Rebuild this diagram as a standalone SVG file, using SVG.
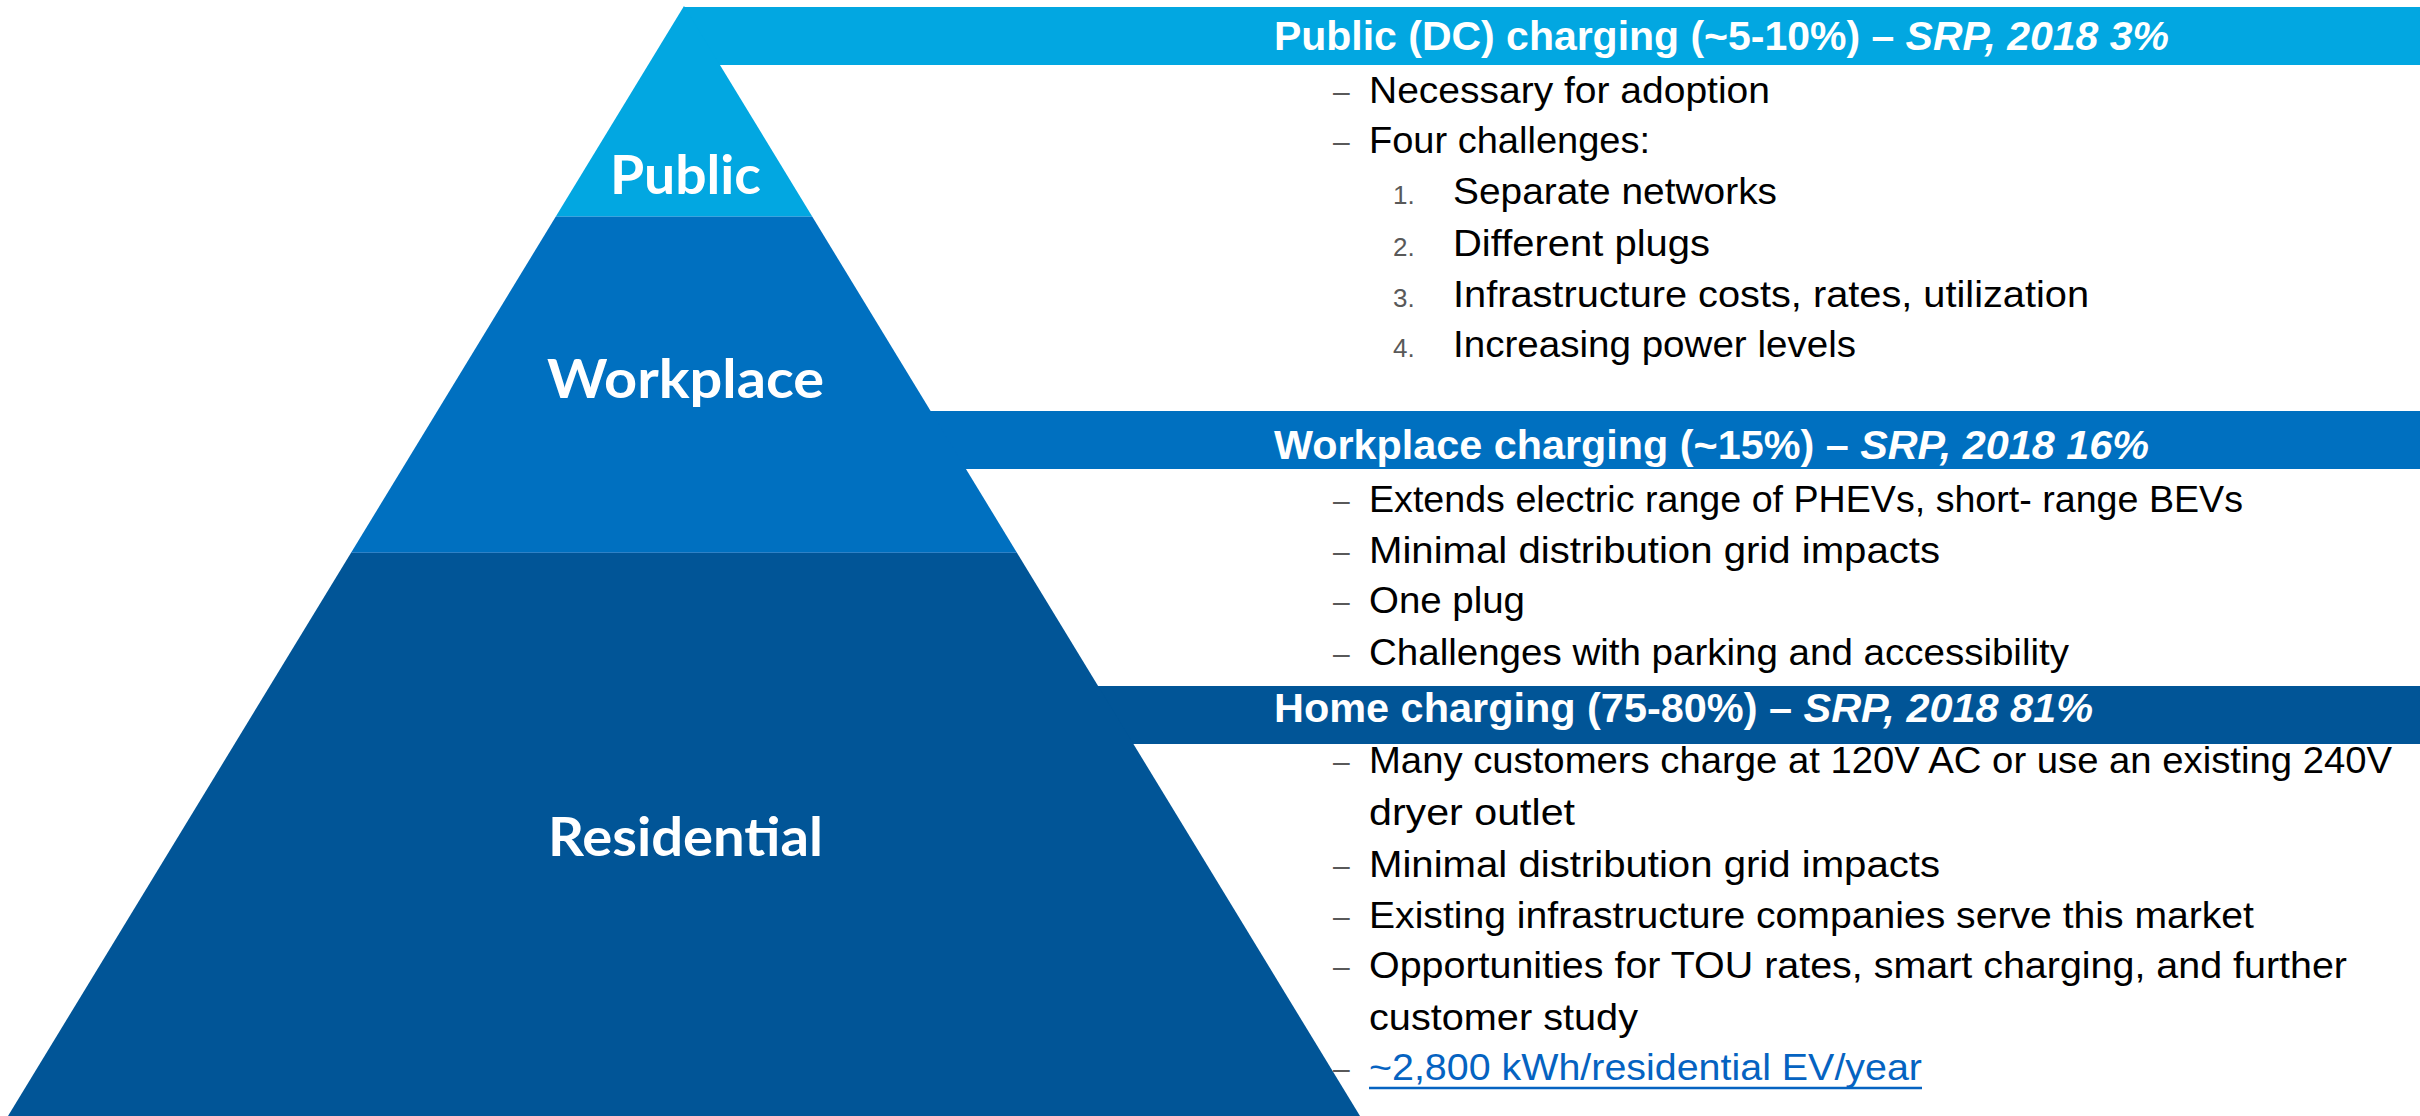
<svg xmlns="http://www.w3.org/2000/svg" width="2420" height="1116" viewBox="0 0 2420 1116">
<style>
.lbl{font-family:Lato,"Open Sans",sans-serif;font-weight:700;font-size:54px;fill:#ffffff}
.ttl{font-family:"Liberation Sans",Arial,sans-serif;font-weight:700;font-size:40px;fill:#ffffff}
.it{font-style:italic}
.body{font-family:"Liberation Sans",Arial,sans-serif;font-size:37px;fill:#000000}
.dash{font-family:"Liberation Sans",Arial,sans-serif;font-size:30px;fill:#595959}
.num{font-family:"Liberation Sans",Arial,sans-serif;font-size:26px;fill:#595959}
.link{fill:#0563C1}
.c1{fill:#02A7E1}
.c2{fill:#0070C0}
.c3{fill:#015597}
</style>
<rect width="2420" height="1116" fill="#ffffff"/>
<g id="connectors"></g>
<g id="public">
<rect class="c1" x="684" y="7" width="1736" height="58"/>
<polygon class="c1" points="684,6 812.5,217 555.5,217"/>
<line x1="556" y1="217" x2="812" y2="217" stroke="#4FA3DC" stroke-width="1.5"/>
<text class="lbl" x="610" y="194" textLength="151" lengthAdjust="spacingAndGlyphs">Public</text>
<text class="ttl" x="1274" y="50" textLength="895" lengthAdjust="spacingAndGlyphs">Public (DC) charging (~5-10%) – <tspan class="it">SRP, 2018 3%</tspan></text>
<text class="dash" x="1333" y="102">–</text>
<text class="body" x="1369" y="103" textLength="401" lengthAdjust="spacingAndGlyphs">Necessary for adoption</text>
<text class="dash" x="1333" y="152">–</text>
<text class="body" x="1369" y="153" textLength="281" lengthAdjust="spacingAndGlyphs">Four challenges:</text>
<text class="num" x="1393" y="204">1.</text>
<text class="body" x="1453" y="204" textLength="324" lengthAdjust="spacingAndGlyphs">Separate networks</text>
<text class="num" x="1393" y="256">2.</text>
<text class="body" x="1453" y="256" textLength="257" lengthAdjust="spacingAndGlyphs">Different plugs</text>
<text class="num" x="1393" y="307">3.</text>
<text class="body" x="1453" y="307" textLength="636" lengthAdjust="spacingAndGlyphs">Infrastructure costs, rates, utilization</text>
<text class="num" x="1393" y="357">4.</text>
<text class="body" x="1453" y="357" textLength="403" lengthAdjust="spacingAndGlyphs">Increasing power levels</text>
</g>
<g id="workplace">
<rect class="c2" x="900" y="411" width="1520" height="58"/>
<polygon class="c2" points="555.5,217 812.5,217 1017.1,553 350.9,553"/>
<line x1="351" y1="553" x2="1017" y2="553" stroke="#3F87C9" stroke-width="1.5"/>
<text class="lbl" x="547" y="398" textLength="277" lengthAdjust="spacingAndGlyphs">Workplace</text>
<text class="ttl" x="1274" y="459" textLength="875" lengthAdjust="spacingAndGlyphs">Workplace charging (~15%) – <tspan class="it">SRP, 2018 16%</tspan></text>
<text class="dash" x="1333" y="511">–</text>
<text class="body" x="1369" y="512" textLength="874" lengthAdjust="spacingAndGlyphs">Extends electric range of PHEVs, short- range BEVs</text>
<text class="dash" x="1333" y="562">–</text>
<text class="body" x="1369" y="563" textLength="571" lengthAdjust="spacingAndGlyphs">Minimal distribution grid impacts</text>
<text class="dash" x="1333" y="612">–</text>
<text class="body" x="1369" y="613" textLength="156" lengthAdjust="spacingAndGlyphs">One plug</text>
<text class="dash" x="1333" y="664">–</text>
<text class="body" x="1369" y="665" textLength="700" lengthAdjust="spacingAndGlyphs">Challenges with parking and accessibility</text>
</g>
<g id="residential">
<rect class="c3" x="1050" y="686" width="1370" height="58"/>
<polygon class="c3" points="350.9,553 1017.1,553 1360,1116 8,1116"/>
<text class="lbl" x="548" y="856" textLength="275" lengthAdjust="spacingAndGlyphs">Residential</text>
<text class="ttl" x="1274" y="722" textLength="819" lengthAdjust="spacingAndGlyphs">Home charging (75-80%) – <tspan class="it">SRP, 2018 81%</tspan></text>
<text class="dash" x="1333" y="772">–</text>
<text class="body" x="1369" y="773" textLength="1023" lengthAdjust="spacingAndGlyphs">Many customers charge at 120V AC or use an existing 240V</text>
<text class="body" x="1369" y="825" textLength="206" lengthAdjust="spacingAndGlyphs">dryer outlet</text>
<text class="dash" x="1333" y="876">–</text>
<text class="body" x="1369" y="877" textLength="571" lengthAdjust="spacingAndGlyphs">Minimal distribution grid impacts</text>
<text class="dash" x="1333" y="927">–</text>
<text class="body" x="1369" y="928" textLength="885" lengthAdjust="spacingAndGlyphs">Existing infrastructure companies serve this market</text>
<text class="dash" x="1333" y="977">–</text>
<text class="body" x="1369" y="978" textLength="978" lengthAdjust="spacingAndGlyphs">Opportunities for TOU rates, smart charging, and further</text>
<text class="body" x="1369" y="1030" textLength="269" lengthAdjust="spacingAndGlyphs">customer study</text>
<text class="dash" x="1333" y="1079">–</text>
<text class="body link" x="1369" y="1080" textLength="553" lengthAdjust="spacingAndGlyphs">~2,800 kWh/residential EV/year</text>
<line x1="1369" y1="1088" x2="1922" y2="1088" stroke="#0563C1" stroke-width="2.5"/>
</g>
</svg>
